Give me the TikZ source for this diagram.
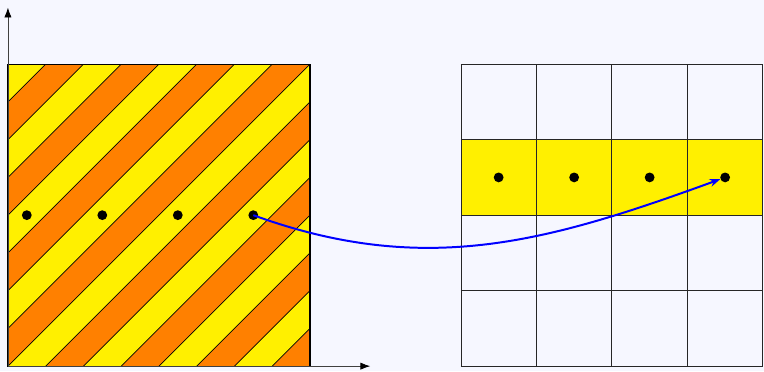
\documentclass[tikz,border=0pt]{standalone}
\usepackage{tikz}
\usepackage{xcolor}
\usetikzlibrary{arrows.meta}

\definecolor{bgcol}{RGB}{246,247,255}
\definecolor{stripeyel}{RGB}{255,240,0}
\definecolor{stripeorg}{RGB}{255,128,0}

\begin{document}
\begin{tikzpicture}[x=1cm,y=1cm,
    dot/.style={circle,fill=black,inner sep=0pt,minimum size=0.26cm},
    axis/.style={draw=black!75,line width=0.6pt,-{Latex[black,length=7.5pt,width=5.5pt]}},
    mapping/.style={blue,line width=1.5pt,-{Stealth[length=8pt,width=6pt]}}]
  \fill[bgcol] (-0.21,-0.13) rectangle (20.03,9.70);
  \useasboundingbox (-0.21,-0.13) rectangle (20.03,9.70);
  % striped square
  \begin{scope}
    \clip (0,0) rectangle (8,8);
    \foreach \k in {-8,...,7}{
      \ifodd\k\relax \def\bandcol{stripeyel}\else \def\bandcol{stripeorg}\fi
      \fill[\bandcol] (0,\k)--(0,\k+1)--(8,\k+9)--(8,\k+8)--cycle;
    }
    \foreach \k in {-7,...,7}
      \draw[line width=0.6pt] (0,\k)--(8,\k+8);
  \end{scope}
  \draw[line width=0.9pt] (0,0) rectangle (8,8);
  \draw[axis] (0,0)--(9.6,0);
  \draw[axis] (0,0)--(0,9.5);
  % grid
  \fill[stripeyel] (12,4) rectangle (20,6);
  \draw[line width=0.6pt,black!85] (12,0) grid[step=2] (20,8);
  % samples
  \node[dot] (s1) at (0.5,4) {};
  \node[dot] (s2) at (2.5,4) {};
  \node[dot] (s3) at (4.5,4) {};
  \node[dot] (s4) at (6.5,4) {};
  \node[dot] (g1) at (13,5) {};
  \node[dot] (g2) at (15,5) {};
  \node[dot] (g3) at (17,5) {};
  \node[dot] (g4) at (19,5) {};
  \draw[mapping] (s4.center) to[out=-20,in=200] (g4);
\end{tikzpicture}
\end{document}
